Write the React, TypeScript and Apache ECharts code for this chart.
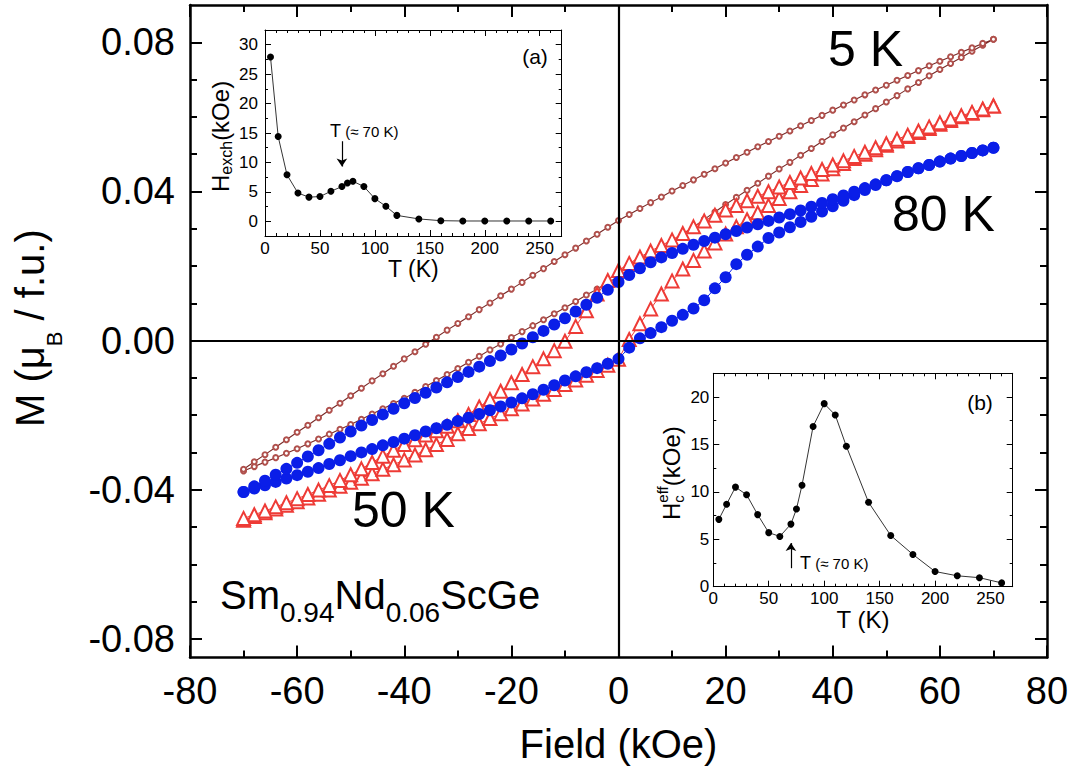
import React, { useEffect, useRef } from "react";
import * as echarts from "echarts";

const FONT = '"Liberation Sans", Arial, Helvetica, sans-serif';

// ---- main hysteresis data: field grid (kOe) and magnetisation (muB/f.u.) ----
const FIELD = [-70, -68, -66, -64, -62, -60, -58, -56, -54, -52, -50, -48, -46, -44, -42, -40, -38, -36, -34, -32, -30, -28, -26, -24, -22, -20, -18, -16, -14, -12, -10, -8, -6, -4, -2, 0, 2, 4, 6, 8, 10, 12, 14, 16, 18, 20, 22, 24, 26, 28, 30, 32, 34, 36, 38, 40, 42, 44, 46, 48, 50, 52, 54, 56, 58, 60, 62, 64, 66, 68, 70];

// 5 K: ascending-field branch and descending-field branch (both listed in ascending field order)
const M5_ASC = [-0.0350, -0.0338, -0.0326, -0.0314, -0.0302, -0.0290, -0.0277, -0.0264, -0.0251, -0.0238, -0.0225, -0.0211, -0.0197, -0.0183, -0.0169, -0.0155, -0.0139, -0.0123, -0.0107, -0.0091, -0.0075, -0.0058, -0.0042, -0.0025, -0.0009, 0.0008, 0.0024, 0.0040, 0.0056, 0.0072, 0.0088, 0.0105, 0.0122, 0.0138, 0.0155, 0.0172, 0.0190, 0.0209, 0.0227, 0.0246, 0.0265, 0.0285, 0.0305, 0.0325, 0.0345, 0.0365, 0.0384, 0.0403, 0.0422, 0.0441, 0.0460, 0.0478, 0.0497, 0.0515, 0.0534, 0.0552, 0.0570, 0.0587, 0.0605, 0.0622, 0.0640, 0.0657, 0.0675, 0.0692, 0.0710, 0.0727, 0.0743, 0.0759, 0.0776, 0.0792, 0.0808];
const M5_DESC = [-0.0345, -0.0325, -0.0306, -0.0286, -0.0266, -0.0246, -0.0227, -0.0207, -0.0187, -0.0168, -0.0148, -0.0128, -0.0108, -0.0089, -0.0069, -0.0049, -0.0030, -0.0010, 0.0009, 0.0028, 0.0046, 0.0064, 0.0083, 0.0101, 0.0120, 0.0138, 0.0156, 0.0175, 0.0193, 0.0212, 0.0230, 0.0248, 0.0267, 0.0285, 0.0304, 0.0322, 0.0338, 0.0354, 0.0370, 0.0385, 0.0401, 0.0416, 0.0431, 0.0446, 0.0461, 0.0476, 0.0491, 0.0505, 0.0520, 0.0534, 0.0548, 0.0562, 0.0576, 0.0590, 0.0604, 0.0618, 0.0632, 0.0645, 0.0659, 0.0672, 0.0685, 0.0698, 0.0711, 0.0724, 0.0737, 0.0749, 0.0761, 0.0773, 0.0785, 0.0797, 0.0808];

// 50 K
const M50_ASC = [-0.0482, -0.0472, -0.0462, -0.0452, -0.0442, -0.0432, -0.0422, -0.0412, -0.0401, -0.0391, -0.0380, -0.0369, -0.0357, -0.0345, -0.0333, -0.0320, -0.0307, -0.0293, -0.0279, -0.0265, -0.0250, -0.0236, -0.0223, -0.0209, -0.0196, -0.0183, -0.0170, -0.0157, -0.0144, -0.0131, -0.0118, -0.0106, -0.0093, -0.0080, -0.0066, -0.0050, 0.0003, 0.0045, 0.0085, 0.0125, 0.0160, 0.0192, 0.0215, 0.0240, 0.0262, 0.0286, 0.0305, 0.0324, 0.0343, 0.0362, 0.0381, 0.0399, 0.0416, 0.0432, 0.0447, 0.0461, 0.0475, 0.0488, 0.0500, 0.0512, 0.0524, 0.0535, 0.0547, 0.0558, 0.0569, 0.0580, 0.0590, 0.0600, 0.0610, 0.0619, 0.0629];
const M50_DESC = [-0.0477, -0.0467, -0.0457, -0.0446, -0.0435, -0.0424, -0.0413, -0.0401, -0.0389, -0.0375, -0.0360, -0.0344, -0.0327, -0.0310, -0.0294, -0.0279, -0.0266, -0.0253, -0.0242, -0.0230, -0.0215, -0.0198, -0.0178, -0.0158, -0.0136, -0.0113, -0.0091, -0.0070, -0.0049, -0.0027, -0.0002, 0.0038, 0.0080, 0.0125, 0.0161, 0.0188, 0.0207, 0.0224, 0.0240, 0.0255, 0.0270, 0.0287, 0.0305, 0.0321, 0.0336, 0.0350, 0.0362, 0.0375, 0.0387, 0.0399, 0.0412, 0.0424, 0.0436, 0.0448, 0.0459, 0.0471, 0.0482, 0.0494, 0.0505, 0.0517, 0.0528, 0.0540, 0.0551, 0.0562, 0.0573, 0.0584, 0.0594, 0.0603, 0.0612, 0.0621, 0.0629];

// 80 K
const M80_ASC = [-0.0406, -0.0397, -0.0388, -0.0379, -0.0370, -0.0361, -0.0352, -0.0342, -0.0331, -0.0321, -0.0310, -0.0300, -0.0291, -0.0281, -0.0272, -0.0263, -0.0254, -0.0244, -0.0235, -0.0226, -0.0216, -0.0207, -0.0197, -0.0187, -0.0177, -0.0166, -0.0155, -0.0144, -0.0132, -0.0120, -0.0107, -0.0096, -0.0085, -0.0074, -0.0062, -0.0049, -0.0019, 0.0006, 0.0020, 0.0036, 0.0053, 0.0069, 0.0086, 0.0108, 0.0140, 0.0170, 0.0205, 0.0230, 0.0252, 0.0275, 0.0290, 0.0304, 0.0318, 0.0332, 0.0346, 0.0360, 0.0375, 0.0390, 0.0404, 0.0417, 0.0430, 0.0441, 0.0452, 0.0462, 0.0471, 0.0480, 0.0488, 0.0495, 0.0503, 0.0510, 0.0517];
const M80_DESC = [-0.0406, -0.0391, -0.0376, -0.0360, -0.0344, -0.0328, -0.0311, -0.0294, -0.0277, -0.0260, -0.0244, -0.0228, -0.0213, -0.0198, -0.0183, -0.0168, -0.0154, -0.0140, -0.0126, -0.0112, -0.0098, -0.0084, -0.0070, -0.0055, -0.0040, -0.0024, -0.0008, 0.0009, 0.0026, 0.0043, 0.0060, 0.0078, 0.0096, 0.0115, 0.0136, 0.0157, 0.0176, 0.0194, 0.0210, 0.0223, 0.0235, 0.0246, 0.0257, 0.0267, 0.0276, 0.0285, 0.0294, 0.0303, 0.0312, 0.0321, 0.0330, 0.0339, 0.0349, 0.0359, 0.0369, 0.0379, 0.0389, 0.0399, 0.0409, 0.0419, 0.0430, 0.0441, 0.0452, 0.0462, 0.0471, 0.0480, 0.0488, 0.0495, 0.0503, 0.0510, 0.0517];

// ---- insets ----
const T_INSET = [5, 12, 20, 30, 40, 50, 60, 70, 75, 80, 90, 100, 110, 120, 140, 160, 180, 200, 220, 240, 260];
const H_EXCH = [27.9, 14.4, 7.9, 4.8, 4.1, 4.2, 5.1, 5.9, 6.5, 6.8, 5.9, 3.85, 2.55, 1.0, 0.4, 0.1, 0.05, 0.05, 0.05, 0.05, 0.05];
const HC_EFF = [7.1, 8.7, 10.5, 9.7, 7.6, 5.7, 5.3, 6.6, 8.2, 10.7, 16.9, 19.3, 18.1, 14.8, 8.9, 5.4, 3.4, 1.6, 1.15, 0.95, 0.4];
const ARROW_A = [[70, 13.6], [70, 9.3]];
const ARROW_B = [[70, 1.95], [70, 4.6]];

// ---- ticks ----
const MAIN_X_MAJOR = [-80, -60, -40, -20, 0, 20, 40, 60, 80];
const MAIN_X_MINOR = [-70, -50, -30, -10, 10, 30, 50, 70];
const MAIN_Y_MAJOR = [-0.08, -0.04, 0, 0.04, 0.08];
const MAIN_Y_MINOR = [-0.07, -0.06, -0.05, -0.03, -0.02, -0.01, 0.01, 0.02, 0.03, 0.05, 0.06, 0.07];
const INSET_X_MAJOR = [0, 50, 100, 150, 200, 250];
const INSET_X_MINOR = [10, 20, 30, 40, 60, 70, 80, 90, 110, 120, 130, 140, 160, 170, 180, 190, 210, 220, 230, 240, 260];
const INSET_A_Y_MAJOR = [0, 5, 10, 15, 20, 25, 30];
const INSET_A_Y_MINOR = [2.5, 7.5, 12.5, 17.5, 22.5, 27.5];
const INSET_B_Y_MAJOR = [0, 5, 10, 15, 20];
const INSET_B_Y_MINOR = [2.5, 7.5, 12.5, 17.5];

function measure(text: string, size: number): number {
  const c = document.createElement("canvas").getContext("2d") as CanvasRenderingContext2D;
  c.font = `${size}px ${FONT}`;
  return c.measureText(text).width;
}

type Part = { t: string; size: number; dy: number; keep?: boolean };
function textRun(parts: Part[], x0: number, y0: number, rotate: boolean) {
  let x = 0;
  const children = parts.map((p) => {
    const el = {
      type: "text",
      x,
      y: p.dy,
      style: {
        text: p.t,
        font: `${p.size}px ${FONT}`,
        fill: "#000",
        align: "left",
        verticalAlign: "middle",
        textAlign: "left",
        textVerticalAlign: "middle",
      },
    };
    if (!p.keep) x += measure(p.t, p.size);
    return el;
  });
  return { type: "group", x: x0, y: y0, rotation: rotate ? Math.PI / 2 : 0, silent: true, children };
}

function plainText(t: string, x: number, y: number, size: number, align = "left") {
  return {
    type: "text",
    x,
    y,
    silent: true,
    style: { text: t, font: `${size}px ${FONT}`, fill: "#000", align, textAlign: align, verticalAlign: "middle", textVerticalAlign: "middle" },
  };
}

type AxisCfg = {
  grid: number; min: number; max: number; major: number[]; minor: number[];
  majorLen: number; minorLen: number; lineW: number; tickW: number; label?: any; extra?: any;
};
function makeAxes(dir: "x" | "y", c: AxisCfg) {
  const sides = dir === "x" ? ["bottom", "top"] : ["left", "right"];
  const base = (pos: string, vals: number[], len: number, showLine: boolean, label: any) => ({
    type: "value",
    gridIndex: c.grid,
    min: c.min,
    max: c.max,
    position: pos,
    axisLine: { show: showLine, onZero: false, lineStyle: { color: "#000", width: c.lineW } },
    axisTick: { show: true, inside: true, length: len, customValues: vals, lineStyle: { color: "#000", width: c.tickW } },
    axisLabel: label ? { ...label, customValues: c.major } : { show: false },
    splitLine: { show: false },
    minorTick: { show: false },
    minorSplitLine: { show: false },
    axisPointer: { show: false },
    silent: true,
  });
  return [
    { ...base(sides[0], c.major, c.majorLen, true, c.label), ...(c.extra || {}) },
    base(sides[0], c.minor, c.minorLen, false, null),
    base(sides[1], c.major, c.majorLen, true, null),
    base(sides[1], c.minor, c.minorLen, false, null),
  ];
}

function loop(asc: number[], desc: number[]) {
  const up = FIELD.map((f, i) => [f, asc[i]]);
  const down = FIELD.map((f, i) => [f, desc[i]]).reverse();
  return up.concat(down);
}

export default function App() {
  const ref = useRef<HTMLDivElement>(null);
  useEffect(() => {
    if (!ref.current) return;
    const chart = echarts.init(ref.current, null, { renderer: "svg" });

    const mainLabel = { show: true, color: "#000", fontFamily: FONT, fontSize: 38 };
    const insetLabel = { show: true, color: "#000", fontFamily: FONT, fontSize: 17 };

    const xAxes = [
      ...makeAxes("x", {
        grid: 0, min: -80, max: 80, major: MAIN_X_MAJOR, minor: MAIN_X_MINOR, majorLen: 12, minorLen: 7, lineW: 2.5, tickW: 2,
        label: { ...mainLabel, margin: 14 },
        extra: { name: "Field (kOe)", nameLocation: "middle", nameGap: 66, nameTextStyle: { fontFamily: FONT, fontSize: 40, color: "#000" } },
      }),
      ...makeAxes("x", {
        grid: 1, min: 0, max: 270, major: INSET_X_MAJOR, minor: INSET_X_MINOR, majorLen: 6, minorLen: 3, lineW: 1, tickW: 1,
        label: { ...insetLabel, margin: 4 },
        extra: { name: "T (K)", nameLocation: "middle", nameGap: 18, nameTextStyle: { fontFamily: FONT, fontSize: 23, color: "#000" } },
      }),
      ...makeAxes("x", {
        grid: 2, min: 0, max: 270, major: INSET_X_MAJOR, minor: INSET_X_MINOR, majorLen: 6, minorLen: 3, lineW: 1, tickW: 1,
        label: { ...insetLabel, margin: 3 },
        extra: { name: "T (K)", nameLocation: "middle", nameGap: 20, nameTextStyle: { fontFamily: FONT, fontSize: 24, color: "#000" } },
      }),
    ];
    const yAxes = [
      ...makeAxes("y", {
        grid: 0, min: -0.085, max: 0.09, major: MAIN_Y_MAJOR, minor: MAIN_Y_MINOR, majorLen: 12, minorLen: 7, lineW: 2.5, tickW: 2,
        label: { ...mainLabel, margin: 15, formatter: (v: number) => v.toFixed(2) },
      }),
      ...makeAxes("y", {
        grid: 1, min: -2.5, max: 32.5, major: INSET_A_Y_MAJOR, minor: INSET_A_Y_MINOR, majorLen: 6, minorLen: 3, lineW: 1, tickW: 1,
        label: { ...insetLabel, margin: 7 },
      }),
      ...makeAxes("y", {
        grid: 2, min: 0, max: 22.5, major: INSET_B_Y_MAJOR, minor: INSET_B_Y_MINOR, majorLen: 6, minorLen: 3, lineW: 1, tickW: 1,
        label: { ...insetLabel, margin: 4 },
      }),
    ];

    const insetSeries = (xi: number, vals: number[], arrow: number[][]) => ({
      type: "line",
      xAxisIndex: xi,
      yAxisIndex: xi,
      data: T_INSET.map((t, i) => [t, vals[i]]),
      symbol: "circle",
      symbolSize: 7,
      itemStyle: { color: "#000" },
      lineStyle: { color: "#000", width: 0.8 },
      emphasis: { disabled: true },
      markLine: {
        silent: true,
        symbol: ["none", "arrow"],
        symbolSize: 8,
        label: { show: false },
        lineStyle: { color: "#000", width: 1.2, type: "solid" },
        data: [[{ coord: arrow[0] }, { coord: arrow[1] }]],
      },
    });

    const option: any = {
      animation: false,
      backgroundColor: "#fff",
      grid: [
        { left: 190, top: 5, width: 857, height: 652.5, containLabel: false },
        { left: 265, top: 30, width: 296.7, height: 206, containLabel: false },
        { left: 713.3, top: 373.3, width: 299.4, height: 213.4, containLabel: false },
      ],
      xAxis: xAxes,
      yAxis: yAxes,
      series: [
        {
          type: "line",
          xAxisIndex: 0,
          yAxisIndex: 0,
          data: [],
          markLine: {
            silent: true,
            symbol: "none",
            label: { show: false },
            lineStyle: { color: "#000", width: 2.2, type: "solid" },
            data: [{ xAxis: 0 }, { yAxis: 0 }],
          },
        },
        {
          name: "5 K",
          type: "line",
          xAxisIndex: 0,
          yAxisIndex: 0,
          data: loop(M5_ASC, M5_DESC),
          symbol: "emptyCircle",
          symbolSize: 5,
          itemStyle: { color: "#b0504c", borderWidth: 1 },
          lineStyle: { color: "#7a2a28", width: 1.1 },
          emphasis: { disabled: true },
        },
        {
          name: "50 K",
          type: "line",
          xAxisIndex: 0,
          yAxisIndex: 0,
          data: loop(M50_ASC, M50_DESC),
          symbol: "emptyTriangle",
          symbolSize: 13,
          itemStyle: { color: "#ee3b36", borderWidth: 1.2 },
          lineStyle: { color: "#ee3b36", width: 1 },
          emphasis: { disabled: true },
        },
        {
          name: "80 K",
          type: "line",
          xAxisIndex: 0,
          yAxisIndex: 0,
          data: loop(M80_ASC, M80_DESC),
          symbol: "circle",
          symbolSize: 12,
          itemStyle: { color: "#0a1ee8" },
          lineStyle: { color: "#0a1ee8", width: 1 },
          emphasis: { disabled: true },
        },
        insetSeries(4, H_EXCH, ARROW_A),
        insetSeries(8, HC_EFF, ARROW_B),
      ],
      graphic: [
        textRun([{ t: "M (μ", size: 40, dy: 0 }, { t: "B", size: 22, dy: 24 }, { t: " / f.u.)", size: 40, dy: 0 }], 30, 427, true),
        textRun([{ t: "H", size: 24, dy: 0 }, { t: "exch", size: 16, dy: 6 }, { t: "(kOe)", size: 24, dy: 0 }], 220.5, 192, true),
        textRun([{ t: "H", size: 24, dy: 0 }, { t: "c", size: 15, dy: 7, keep: true }, { t: "eff", size: 15, dy: -9 }, { t: "(kOe)", size: 24, dy: 0 }], 671, 520, true),
        textRun([{ t: "Sm", size: 40, dy: 0 }, { t: "0.94", size: 28, dy: 17 }, { t: "Nd", size: 40, dy: 0 }, { t: "0.06", size: 28, dy: 17 }, { t: "ScGe", size: 40, dy: 0 }], 220, 595, false),
        plainText("5 K", 828, 49, 50),
        plainText("80 K", 892, 214, 50),
        plainText("50 K", 352, 510, 50),
        plainText("(a)", 535, 56, 21, "center"),
        plainText("(b)", 980, 402, 21, "center"),
        textRun([{ t: "T", size: 18, dy: 0 }, { t: " (≈ 70 K)", size: 15, dy: 0 }], 330, 131, false),
        textRun([{ t: "T", size: 18, dy: 0 }, { t: " (≈ 70 K)", size: 15, dy: 0 }], 800, 563, false),
      ],
    };
    chart.setOption(option);
    return () => chart.dispose();
  }, []);
  return <div ref={ref} style={{ position: "fixed", left: 0, top: 0, width: 1074, height: 778, background: "#fff" }} />;
}
